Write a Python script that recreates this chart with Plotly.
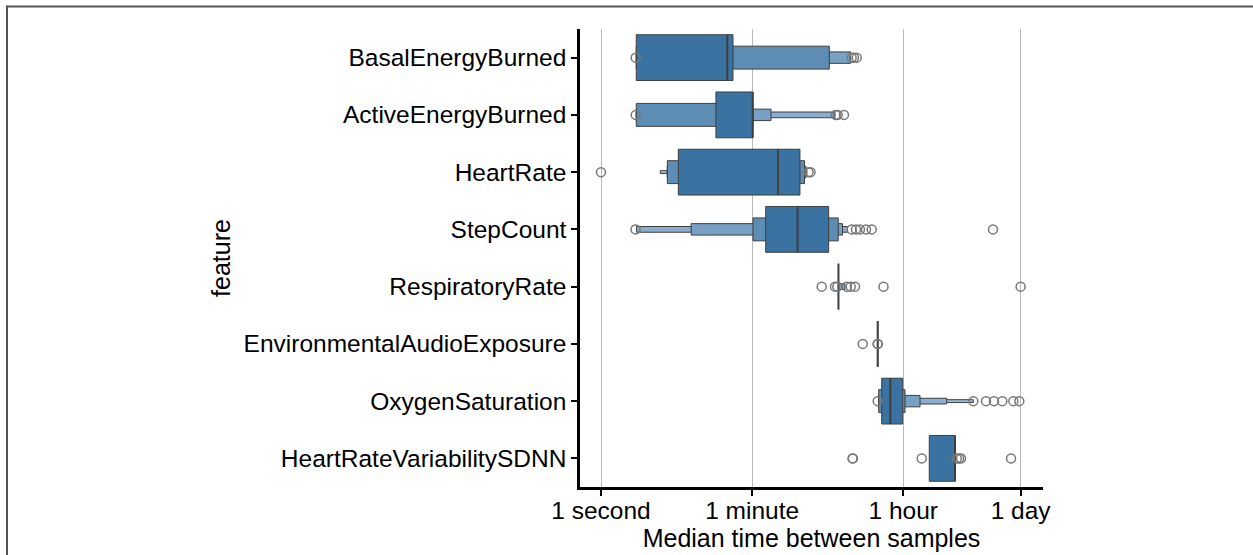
import plotly.graph_objects as go

# ---- data (times in seconds) ----
features = [
    "BasalEnergyBurned",
    "ActiveEnergyBurned",
    "HeartRate",
    "StepCount",
    "RespiratoryRate",
    "EnvironmentalAudioExposure",
    "OxygenSaturation",
    "HeartRateVariabilitySDNN",
]

# letter-value box edges, innermost (IQR) level first
box_lows = [
    [2.60, 2.60, 2.60],
    [22.5, 2.60, 2.60, 2.60],
    [8.12, 6.03, 6.03, 6.03, 4.98],
    [86.6, 61.4, 11.5, 2.62],
    [622, 622, 622, 622],
    [1800],
    [2006, 1849, 1849, 1849, 1849],
    [7280],
]
box_highs = [
    [35.7, 485, 866],
    [61, 61, 100, 566],
    [219, 248, 258, 262, 265],
    [477, 618, 694, 794],
    [622, 622, 622, 742],
    [1800],
    [3543, 3770, 5662, 11670, 23990],
    [14610],
]
medians = [30.6, 61, 121, 205, 622, 1800, 2533, 14610]

outliers = [
    [2.56, 889, 947, 1019],
    [2.56, 577, 609, 722],
    [1.0, 276, 292],
    [2.55, 890, 1000, 1114, 1312, 1530, 40900],
    [395, 566, 603, 778, 866, 973, 2107, 86400],
    [1200, 1800, 1800],
    [1800, 23990, 33840, 42060, 52640, 70940, 83410],
    [912, 918, 5930, 15300, 16290, 17190, 66670],
]

tick_values = [1, 60, 3600, 86400]
tick_labels = ["1 second", "1 minute", "1 hour", "1 day"]

# ---- styling ----
level_colors = ["#3a72a1", "#5e8db4", "#77a0c4", "#8aaecf", "#9dbbd8", "#aec8df"]
edge_color = "#3f3f3f"
flier_color = "#777777"
font_family = "Liberation Sans, Arial, sans-serif"

W, H = 1253, 555
M_L, M_R, M_T, M_B = 580, 210, 29, 68
plot_w = W - M_L - M_R
plot_h = H - M_T - M_B

fig = go.Figure()

# boxes: draw outer (narrow, light) levels first so the inner ones sit on top
max_levels = max(len(b) for b in box_lows)
for level in reversed(range(max_levels)):
    half = 0.4 * 0.5 ** level
    for i, (lows, highs) in enumerate(zip(box_lows, box_highs)):
        if level >= len(lows):
            continue
        lo, hi = lows[level], highs[level]
        fig.add_trace(go.Scatter(
            x=[lo, hi, hi, lo, lo],
            y=[i - half, i - half, i + half, i + half, i - half],
            mode="lines",
            fill="toself",
            fillcolor=level_colors[level],
            line=dict(color=edge_color, width=1),
            hoverinfo="skip",
            showlegend=False,
        ))

# median lines across the IQR box
for i, med in enumerate(medians):
    fig.add_trace(go.Scatter(
        x=[med, med],
        y=[i - 0.4, i + 0.4],
        mode="lines",
        line=dict(color=edge_color, width=2),
        hoverinfo="skip",
        showlegend=False,
    ))

# outliers
for i, pts in enumerate(outliers):
    fig.add_trace(go.Scatter(
        x=pts,
        y=[i] * len(pts),
        mode="markers",
        marker=dict(symbol="circle-open", size=9, color=flier_color,
                    line=dict(width=1.5, color=flier_color)),
        hoverinfo="skip",
        showlegend=False,
    ))


def px_to_paper_x(px):
    return (px - M_L) / plot_w


def px_to_paper_y(py):
    return (H - M_B - py) / plot_h


# outer frame (top and left edges)
frame_color = "#555555"
fig.add_shape(type="line", xref="paper", yref="paper",
              x0=px_to_paper_x(7), x1=px_to_paper_x(W + 5),
              y0=px_to_paper_y(6.5), y1=px_to_paper_y(6.5),
              line=dict(color=frame_color, width=2))
fig.add_shape(type="line", xref="paper", yref="paper",
              x0=px_to_paper_x(7), x1=px_to_paper_x(7),
              y0=px_to_paper_y(5.5), y1=px_to_paper_y(H + 5),
              line=dict(color=frame_color, width=2))

fig.update_layout(
    width=W,
    height=H,
    margin=dict(l=M_L, r=M_R, t=M_T, b=M_B, pad=0, autoexpand=False),
    paper_bgcolor="white",
    plot_bgcolor="white",
    font=dict(family=font_family, size=24.5, color="black"),
    xaxis=dict(
        type="log",
        range=[-0.247, 5.2],
        tickvals=tick_values,
        ticktext=tick_labels,
        automargin=False,
        showgrid=True,
        gridcolor="#bbbbbb",
        gridwidth=1,
        zeroline=False,
        showline=True,
        linecolor="black",
        linewidth=2.5,
        ticks="outside",
        ticklen=6,
        tickwidth=2,
        tickcolor="black",
        tickfont=dict(size=24.5),
        ticklabelstandoff=-6,
        title=dict(text="Median time between samples", font=dict(size=25), standoff=2),
    ),
    yaxis=dict(
        range=[7.5, -0.5],
        tickvals=list(range(len(features))),
        ticktext=features,
        automargin=False,
        showgrid=False,
        zeroline=False,
        showline=True,
        linecolor="black",
        linewidth=2.5,
        ticks="outside",
        ticklen=6,
        tickwidth=2,
        tickcolor="black",
        tickfont=dict(size=24.5),
        title=dict(text="feature", font=dict(size=25), standoff=6),
    ),
)

fig.write_html("out.html")
